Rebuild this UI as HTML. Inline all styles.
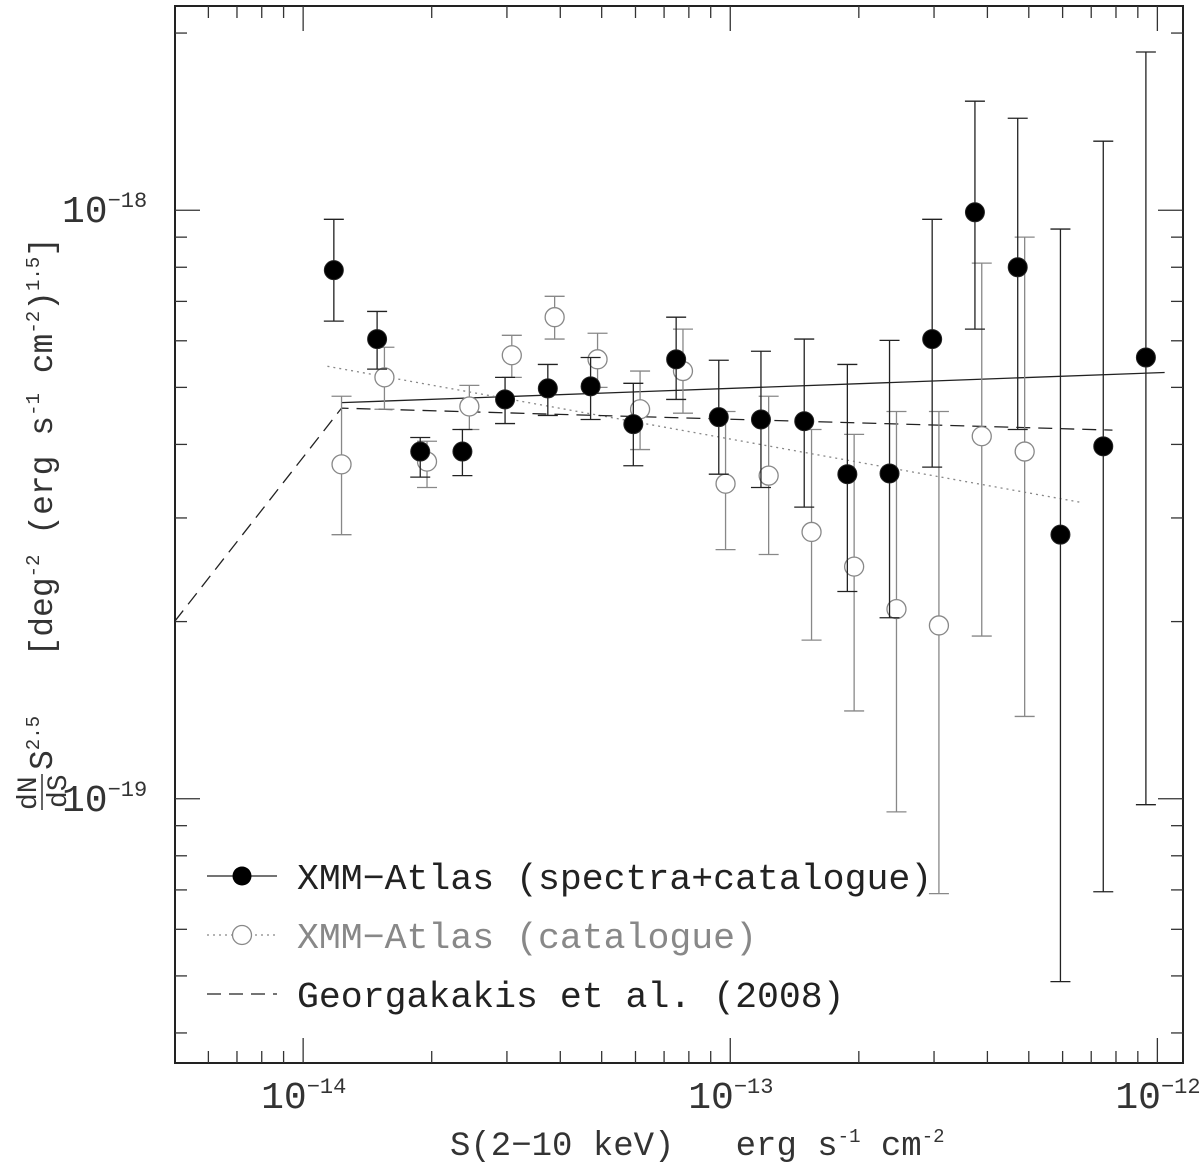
<!DOCTYPE html>
<html><head><meta charset="utf-8"><style>
html,body{margin:0;padding:0;background:#fff;}
svg{display:block;}
text{font-family:"Liberation Mono","DejaVu Sans Mono",monospace;}
.pre{white-space:pre;}
</style></head><body>
<svg id="chart" width="1200" height="1168" viewBox="0 0 1200 1168" xmlns="http://www.w3.org/2000/svg"></svg>
<script>
// ---- data ----
const specFlux = [1.18e-14,1.49e-14,1.88e-14,2.36e-14,2.97e-14,3.74e-14,4.71e-14,5.93e-14,7.47e-14,9.4e-14,1.18e-13,1.49e-13,1.88e-13,2.36e-13,2.97e-13,3.74e-13,4.71e-13,5.93e-13,7.47e-13,9.4e-13];
const specVal = [0.791,0.604,0.389,0.389,0.477,0.498,0.502,0.433,0.558,0.445,0.441,0.438,0.356,0.357,0.604,0.992,0.800,0.281,0.397,0.562];
const specHi  = [0.965,0.673,0.411,0.424,0.520,0.547,0.562,0.508,0.658,0.556,0.576,0.604,0.547,0.601,0.965,1.532,1.433,0.929,1.310,1.857];
const specLo  = [0.648,0.537,0.352,0.354,0.434,0.448,0.441,0.368,0.477,0.356,0.338,0.313,0.225,0.203,0.366,0.628,0.424,0.0489,0.0695,0.0977];
const catFlux = [1.23e-14,1.55e-14,1.95e-14,2.45e-14,3.08e-14,3.88e-14,4.89e-14,6.15e-14,7.75e-14,9.75e-14,1.23e-13,1.55e-13,1.95e-13,2.45e-13,3.08e-13,3.88e-13,4.89e-13];
const catVal = [0.370,0.520,0.374,0.464,0.567,0.658,0.558,0.459,0.533,0.343,0.354,0.284,0.248,0.210,0.197,0.413,0.389];
const catHi  = [0.483,0.585,0.405,0.504,0.613,0.714,0.618,0.533,0.628,0.455,0.483,0.424,0.416,0.455,0.455,0.813,0.900];
const catLo  = [0.281,0.459,0.338,0.424,0.520,0.604,0.500,0.392,0.452,0.265,0.260,0.186,0.141,0.095,0.069,0.189,0.138];
const solidFlux = [1.23e-14,1.04e-12];
const solidVal = [0.471,0.530];
const dottedFlux = [1.14e-14,6.6e-13];
const dottedVal = [0.543,0.319];
const dashFlux = [5.0e-15,1.23e-14,7.85e-13];
const dashVal = [0.200,0.461,0.423];
const yUnit = 1e-18;
const xTickExp = [-14,-13,-12];
const yTickExp = [-18,-19];

// ---- axes ----
const L=175,R=1183,T=6,B=1063;
const xLmin=-14.3, xLmax=-11.94, yLmin=-19.449, yLmax=-17.653;
function sx(v){return L+(Math.log10(v)-xLmin)/(xLmax-xLmin)*(R-L);}
function sy(v){return B-(Math.log10(v*yUnit)-yLmin)/(yLmax-yLmin)*(B-T);}
const svg=document.getElementById('chart');
const NS='http://www.w3.org/2000/svg';
function mk(tag,attrs,parent){const e=document.createElementNS(NS,tag);for(const k in attrs)e.setAttribute(k,attrs[k]);(parent||svg).appendChild(e);return e;}

// frame
const frame=mk('rect',{x:L,y:T,width:R-L,height:B-T,fill:'none',stroke:'#222','stroke-width':2});



// ticks
const tg=mk('g',{stroke:'#333','stroke-width':1.3});


for(let e=-15;e<=-12;e++){for(let m=1;m<10;m++){const v=m*Math.pow(10,e);const x=sx(v);if(x<L+1||x>R-1)continue;const len=m===1?25:12;
 mk('line',{x1:x,y1:B,x2:x,y2:B-len},tg);mk('line',{x1:x,y1:T,x2:x,y2:T+len},tg);}}
for(let e=-20;e<=-18;e++){for(let m=1;m<10;m++){const v=m*Math.pow(10,e)/yUnit;const y=sy(v);if(y<T+1||y>B-1)continue;const len=m===1?25:12;
 mk('line',{x1:L,y1:y,x2:L+len,y2:y},tg);mk('line',{x1:R,y1:y,x2:R-len,y2:y},tg);}}

// tick labels
xTickExp.forEach(e=>{const x=sx(Math.pow(10,e));
 const t=mk('text',{x:x-42,y:1108,'font-size':38,fill:'#333'});t.textContent='10';
 
 
 const s=mk('tspan',{dy:-15,'font-size':22},t);s.textContent='−'+(-e);});
yTickExp.forEach(e=>{const y=sy(Math.pow(10,e)/yUnit);
 const t=mk('text',{x:62,y:y+12,'font-size':38,fill:'#333'});t.textContent='10';
 
 
 const s=mk('tspan',{dy:-15,'font-size':22},t);s.textContent='−'+(-e);});

// axis titles
const xt=mk('text',{x:450,y:1155,'font-size':34,fill:'#333','class':'pre'});


xt.innerHTML='S(2−10 keV)   erg s<tspan dy="-13" font-size="19">-1</tspan><tspan dy="13"> cm</tspan><tspan dy="-13" font-size="19">-2</tspan>';
const yt=mk('g',{transform:'translate(42,810) rotate(-90)'});


const f1=mk('text',{x:0,y:-6,'font-size':28,fill:'#333'},yt);f1.textContent='dN';
mk('line',{x1:0,y1:0,x2:36,y2:0,stroke:'#333','stroke-width':1.5},yt);
const f2=mk('text',{x:2,y:24,'font-size':28,fill:'#333'},yt);f2.textContent='dS';
const yl=mk('text',{x:40,y:10,'font-size':33,fill:'#333','class':'pre'},yt);
yl.innerHTML='S<tspan dy="-13" font-size="19">2.5</tspan><tspan dy="13">   [deg</tspan><tspan dy="-13" font-size="19">-2</tspan><tspan dy="13"> (erg s</tspan><tspan dy="-13" font-size="19">-1</tspan><tspan dy="13"> cm</tspan><tspan dy="-13" font-size="19">-2</tspan><tspan dy="13">)</tspan><tspan dy="-13" font-size="19">1.5</tspan><tspan dy="13">]</tspan>';

// model lines
function poly(fx,fv,attrs,name){const p=mk('polyline',Object.assign({points:fx.map((x,i)=>sx(x)+','+sy(fv[i])).join(' '),fill:'none'},attrs));
 
 }
poly(solidFlux,solidVal,{stroke:'#222','stroke-width':1.3},'spectra-fit-line');
poly(dottedFlux,dottedVal,{stroke:'#888','stroke-width':1.3,'stroke-dasharray':'2,4'},'catalogue-fit-line');
poly(dashFlux,dashVal,{stroke:'#222','stroke-width':1.3,'stroke-dasharray':'14,8'},'georgakakis-line');

// error bars + points
function series(fx,v,hi,lo,color,filled,name){
 const g=mk('g',{});
 
 
 fx.forEach((f,i)=>{const x=sx(f);
  const eb=mk('g',{stroke:color,'stroke-width':1.3},g);
  
  
  mk('line',{x1:x,y1:sy(hi[i]),x2:x,y2:sy(lo[i])},eb);
  mk('line',{x1:x-10,y1:sy(hi[i]),x2:x+10,y2:sy(hi[i])},eb);
  mk('line',{x1:x-10,y1:sy(lo[i]),x2:x+10,y2:sy(lo[i])},eb);
  const c=mk('circle',{cx:x,cy:sy(v[i]),r:9.5,fill:filled?'#000':'#fff',stroke:color,'stroke-width':filled?1:1.3},g);
  
  
 });}
series(catFlux,catVal,catHi,catLo,'#888',false,'catalogue');
series(specFlux,specVal,specHi,specLo,'#222',true,'spectra');

// legend
const lg=mk('g',{});


const e1=mk('g',{},lg);


mk('line',{x1:207,y1:876,x2:277,y2:876,stroke:'#222','stroke-width':1.3},e1);
mk('circle',{cx:242,cy:876,r:9.5,fill:'#000'},e1);
const l1=mk('text',{x:297,y:889,'font-size':36.5,fill:'#222'},e1);l1.textContent='XMM−Atlas (spectra+catalogue)';
const e2=mk('g',{},lg);


mk('line',{x1:207,y1:935,x2:277,y2:935,stroke:'#888','stroke-width':1.3,'stroke-dasharray':'2,4'},e2);
mk('circle',{cx:242,cy:935,r:9.5,fill:'#fff',stroke:'#888','stroke-width':1.3},e2);
const l2=mk('text',{x:297,y:948,'font-size':36.5,fill:'#888'},e2);l2.textContent='XMM−Atlas (catalogue)';
const e3=mk('g',{},lg);


mk('line',{x1:207,y1:994,x2:277,y2:994,stroke:'#222','stroke-width':1.3,'stroke-dasharray':'14,8'},e3);
const l3=mk('text',{x:297,y:1007,'font-size':36.5,fill:'#222'},e3);l3.textContent='Georgakakis et al. (2008)';
</script>
</body></html>
